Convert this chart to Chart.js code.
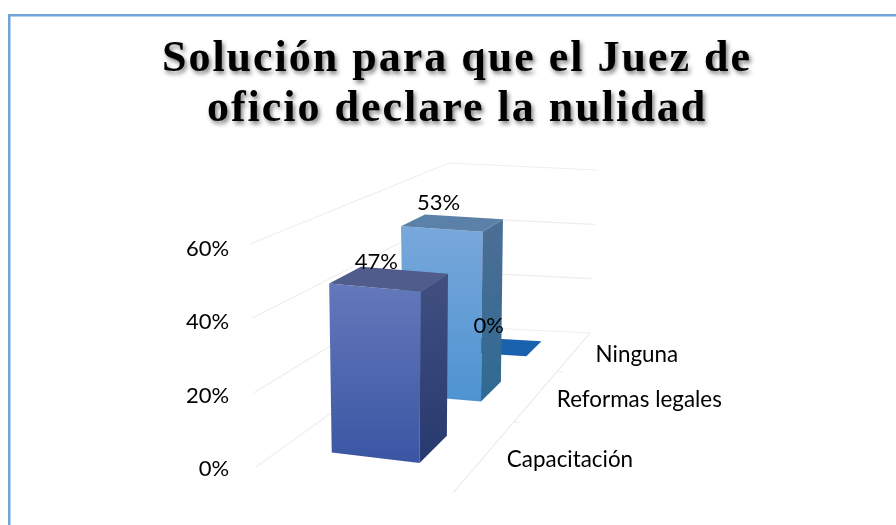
<!DOCTYPE html>
<html>
<head>
<meta charset="utf-8">
<style>html,body{margin:0;padding:0;background:#fff}canvas{display:block}</style>
<script src="https://cdn.jsdelivr.net/npm/chart.js@4"></script>
</head>
<body>
<canvas id="c" width="896" height="525"></canvas>
<script>
const titleLines = ['Solución para que el Juez de', 'oficio declare la nulidad'];
const categories = ['Capacitación', 'Reformas legales', 'Ninguna'];
const percentValues = [47, 53, 0];
const valueAxisMax = 60;
const valueAxisStep = 20;

const barBase = ['#4a63ae', '#5b9bd5', '#1a62ad'];
const frontTop = ['#6478bb', '#78a8db', '#1a62ad'];
const frontBottom = ['#3a56a3', '#4e93d1', '#1a62ad'];
const sideTop = ['#414f80', '#4d6e95', '#1a62ad'];
const sideBottom = ['#28396f', '#2f6a92', '#1a62ad'];
const capColor = ['#4f5c8c', '#5b81a8', '#1a62ad'];
const labelShift = [[-13, -17], [-14, -20], [-11, -21]];
const categoryShift = [[21, 5], [20, 5], [21, 4]];

/* View of the 3D box: where the corners of the unit cube land on the page */
const floorQuad = [[256, 467], [453, 493], [590, 333], [452, 326]];
const ceilQuad = [[250, 244], [457, 262], [597, 170], [449, 163]];
const barLeft = 0.27, barRight = 0.735;

function quadMap(q) {
  const [[x0, y0], [x1, y1], [x2, y2], [x3, y3]] = q;
  const dx1 = x1 - x2, dx2 = x3 - x2, sx = x0 - x1 + x2 - x3;
  const dy1 = y1 - y2, dy2 = y3 - y2, sy = y0 - y1 + y2 - y3;
  const den = dx1 * dy2 - dx2 * dy1;
  const g = (sx * dy2 - dx2 * sy) / den;
  const h = (dx1 * sy - sx * dy1) / den;
  const a = x1 - x0 + g * x1, b = x3 - x0 + h * x3;
  const d = y1 - y0 + g * y1, e = y3 - y0 + h * y3;
  return (u, v) => {
    const w = g * u + h * v + 1;
    return [(a * u + b * v + x0) / w, (d * u + e * v + y0) / w];
  };
}
const floorMap = quadMap(floorQuad), ceilMap = quadMap(ceilQuad);
function project(u, depth, height) {
  const f = floorMap(u, depth), c = ceilMap(u, depth);
  return [f[0] + (c[0] - f[0]) * height, f[1] + (c[1] - f[1]) * height];
}
function poly(ctx, pts, fill) {
  ctx.beginPath();
  pts.forEach((p, i) => i ? ctx.lineTo(p[0], p[1]) : ctx.moveTo(p[0], p[1]));
  ctx.closePath();
  ctx.fillStyle = fill;
  ctx.fill();
}
function vGrad(ctx, y0, y1, c0, c1) {
  if (Math.abs(y1 - y0) < 1) return c0;
  const g = ctx.createLinearGradient(0, y0, 0, y1);
  g.addColorStop(0, c0); g.addColorStop(1, c1);
  return g;
}

const box3d = {
  id: 'box3d',
  beforeDraw(chart) {
    const ctx = chart.ctx;
    ctx.save();
    ctx.fillStyle = '#6ea6da';
    ctx.fillRect(8, 14, 888, 2.5);
    ctx.fillRect(8, 14, 2.5, 511);
    ctx.restore();
    const tb = chart.titleBlock;
    if (tb && !tb._styled) {
      const orig = tb.draw.bind(tb);
      tb.draw = function () {
        tb.left = 18;
        tb.right = 896;
        ctx.save();
        ctx.letterSpacing = '2px';
        ctx.shadowColor = 'rgba(0,0,0,0.5)';
        ctx.shadowBlur = 4;
        ctx.shadowOffsetX = 2;
        ctx.shadowOffsetY = 3;
        orig();
        ctx.restore();
      };
      tb._styled = true;
    }
  },
  beforeDatasetsDraw(chart) {
    const ctx = chart.ctx, y = chart.scales.y, x = chart.scales.x;
    const span = y.bottom - y.top;
    const line = (pts) => {
      ctx.beginPath();
      pts.forEach((p, i) => i ? ctx.lineTo(p[0], p[1]) : ctx.moveTo(p[0], p[1]));
      ctx.stroke();
    };
    ctx.save();
    ctx.strokeStyle = '#eeeeee';
    ctx.lineWidth = 1.2;
    y.ticks.forEach(t => {
      const h = (y.bottom - y.getPixelForValue(t.value)) / span;
      line([project(0, 0, h), project(0, 1, h), project(1, 1, h)]);
    });
    line([project(1, 1, 0), project(1, 0, 0)]);
    const n = categories.length;
    for (let i = 1; i < n; i++) {
      const p = project(1, i / n, 0);
      line([p, [p[0] + 6, p[1]]]);
    }
    ctx.fillStyle = '#000';
    ctx.font = '22.4px Lato';
    ctx.textAlign = 'left';
    ctx.textBaseline = 'middle';
    chart.data.labels.forEach((label, i) => {
      const d = (x.getPixelForValue(i) - x.left) / x.width;
      const p = project(1, d, 0);
      ctx.fillText(label, p[0] + categoryShift[i][0], p[1] + categoryShift[i][1]);
    });
    ctx.restore();
  },
  beforeDatasetDraw(chart, args) {
    const ctx = chart.ctx, y = chart.scales.y, x = chart.scales.x;
    const span = y.bottom - y.top;
    const bars = chart.getDatasetMeta(args.index).data;
    const items = bars.map((bar, i) => ({ bar, i })).reverse();
    ctx.save();
    items.forEach(({ bar, i }) => {
      const d0 = (bar.x - bar.width / 2 - x.left) / x.width;
      const d1 = (bar.x + bar.width / 2 - x.left) / x.width;
      const h = (bar.base - bar.y) / span;
      const a = project(barLeft, d0, h), b = project(barRight, d0, h);
      const c = project(barRight, d1, h), e = project(barLeft, d1, h);
      const a0 = project(barLeft, d0, 0), b0 = project(barRight, d0, 0);
      const c0 = project(barRight, d1, 0);
      if (h > 0) {
        poly(ctx, [a, b, b0, a0], vGrad(ctx, a[1], b0[1], frontTop[i], frontBottom[i]));
        poly(ctx, [b, c, c0, b0], vGrad(ctx, c[1], b0[1], sideTop[i], sideBottom[i]));
      }
      poly(ctx, [a, b, c, e], capColor[i]);
    });
    ctx.fillStyle = '#000';
    ctx.font = '22px Lato';
    ctx.textAlign = 'center';
    ctx.textBaseline = 'middle';
    bars.forEach((bar, i) => {
      const d = (bar.x - x.left) / x.width;
      const h = (bar.base - bar.y) / span;
      const p = project((barLeft + barRight) / 2, d, h);
      ctx.fillText(percentValues[i] + '%', p[0] + labelShift[i][0], p[1] + labelShift[i][1]);
    });
    ctx.restore();
    return false;
  }
};

new Chart(document.getElementById('c'), {
  type: 'bar',
  data: {
    labels: categories,
    datasets: [{
      label: 'Solución',
      data: percentValues,
      backgroundColor: barBase,
      barPercentage: 0.405,
      categoryPercentage: 1
    }]
  },
  options: {
    responsive: false,
    animation: false,
    devicePixelRatio: 1,
    layout: { padding: { left: 178, right: 296, top: 0, bottom: 56 } },
    plugins: {
      legend: { display: false },
      tooltip: { enabled: false },
      title: {
        display: true,
        text: titleLines,
        color: '#000',
        font: { family: 'Liberation Serif', weight: 'bold', size: 44, lineHeight: 1.13 },
        padding: { top: 35, bottom: 114.6 }
      }
    },
    scales: {
      x: { display: false },
      y: {
        min: 0,
        max: valueAxisMax,
        grid: { display: false },
        border: { display: false },
        ticks: {
          stepSize: valueAxisStep,
          color: '#000',
          font: { family: 'Lato', size: 22 },
          padding: 8,
          callback: v => v + '%'
        }
      }
    }
  },
  plugins: [box3d]
});
</script>
</body>
</html>
